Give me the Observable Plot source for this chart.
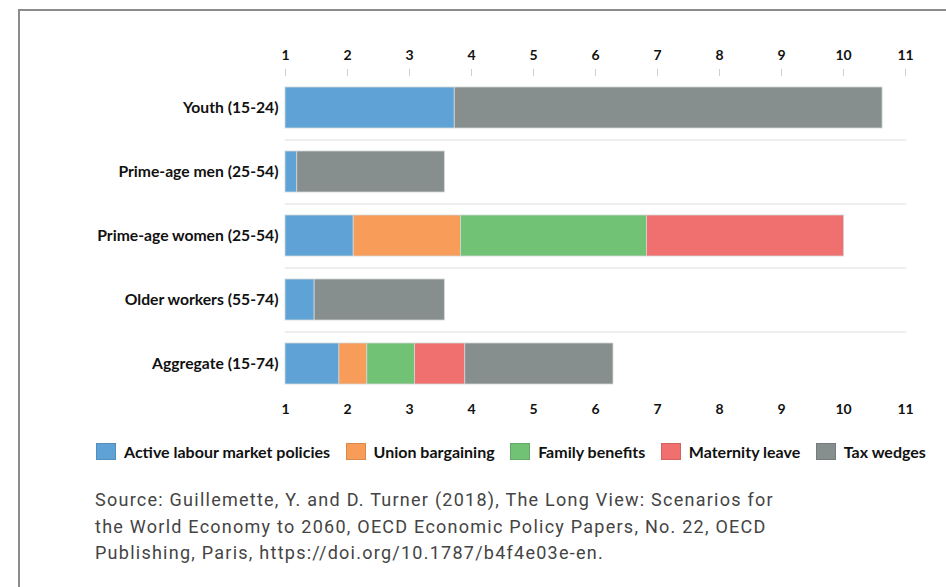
<!DOCTYPE html>
<html>
<head>
<meta charset="utf-8">
<script src="https://cdn.jsdelivr.net/npm/d3@7"></script>
<script src="https://cdn.jsdelivr.net/npm/@observablehq/plot@0.6"></script>
<style>
  html, body { margin: 0; padding: 0; background: #fff; }
  body { width: 946px; height: 587px; position: relative; overflow: hidden; }
  #frame { position: absolute; left: 18px; top: 9px; width: 940px; height: 600px;
           border-top: 2px solid #8c8c8c; border-left: 2px solid #8c8c8c; }
  #chart { position: absolute; left: 0; top: 0; }
  #legend { position: absolute; left: 96px; top: 442px; display: flex; align-items: center;
            font-family: Lato, sans-serif; font-weight: 700; font-size: 16px; color: #111; white-space: nowrap; }
  .item { display: flex; align-items: center; margin-right: 15.5px; flex: none; }
  .item:last-child { margin-right: 0; }
  .sw { width: 20px; height: 17px; margin-right: 8px; box-sizing: border-box; border: 1px solid rgba(0,0,0,0.12); }
  #source { position: absolute; left: 95px; top: 487px; font-family: Roboto, sans-serif; font-size: 18px;
            line-height: 26.5px; color: #444; letter-spacing: 1.25px; white-space: nowrap; }
</style>
</head>
<body>
<div id="frame"></div>
<div id="chart"></div>
<div id="legend"></div>
<div id="source">Source: Guillemette, Y. and D. Turner (2018), The Long View: Scenarios for<br>the World Economy to 2060, OECD Economic Policy Papers, No. 22, OECD<br>Publishing, Paris, https://doi.org/10.1787/b4f4e03e-en.</div>
<script>
const categories = ["Youth (15-24)", "Prime-age men (25-54)", "Prime-age women (25-54)", "Older workers (55-74)", "Aggregate (15-74)"];
const policies = ["Active labour market policies", "Union bargaining", "Family benefits", "Maternity leave", "Tax wedges"];
const activeLabour    = [2.73, 0.19, 1.10, 0.47, 0.87];
const unionBargaining = [0,    0,    1.73, 0,    0.45];
const familyBenefits  = [0,    0,    3.00, 0,    0.77];
const maternityLeave  = [0,    0,    3.18, 0,    0.81];
const taxWedges       = [6.90, 2.38, 0,    2.10, 2.39];
const xTicks = [1, 2, 3, 4, 5, 6, 7, 8, 9, 10, 11];
const colors = ["#5fa3d6", "#f79c59", "#72c275", "#f07070", "#878e8e"];

const series = [activeLabour, unionBargaining, familyBenefits, maternityLeave, taxWedges];
const rows = [];
categories.forEach((cat, i) => {
  let base = xTicks[0];
  series.forEach((s, j) => {
    const v = s[i];
    if (v > 0) rows.push({category: cat, policy: policies[j], x1: base, x2: base + v});
    base += v;
  });
});

const chart = Plot.plot({
  width: 946,
  height: 430,
  marginTop: 75,
  marginBottom: 34,
  marginLeft: 285,
  marginRight: 41,
  style: {fontFamily: "Lato, sans-serif", fontWeight: 700, fontSize: "13.5px", color: "#111", background: "transparent"},
  x: {domain: [1, 11], ticks: xTicks},
  y: {domain: categories, paddingInner: 0.36, paddingOuter: 0.18, label: null},
  color: {domain: policies, range: colors},
  marks: [
    Plot.ruleY(categories.slice(1), {x1: 1, x2: 11.02, stroke: "#eeeeee", strokeWidth: 2, dy: -32}),
    Plot.barX(rows, {y: "category", x1: "x1", x2: "x2", fill: "policy", stroke: "#d3d6d6", strokeWidth: 0.8}),
    Plot.axisX({anchor: "top", ticks: xTicks, tickSize: 7, tickPadding: 9, stroke: "#c5d0da", label: null, tickFormat: d => d, fontSize: 14}),
    Plot.axisX({anchor: "bottom", ticks: xTicks, tickSize: 0, tickPadding: 8, label: null, tickFormat: d => d, fontSize: 14}),
    Plot.axisY({tickSize: 0, tickPadding: 7, label: null, fontSize: 15.7})
  ]
});
document.getElementById("chart").appendChild(chart);

const legend = document.getElementById("legend");
policies.forEach((p, j) => {
  const it = document.createElement("div");
  it.className = "item";
  const sw = document.createElement("div");
  sw.className = "sw";
  sw.style.background = colors[j];
  const t = document.createElement("span");
  t.textContent = p;
  it.appendChild(sw); it.appendChild(t);
  legend.appendChild(it);
});
</script>
</body>
</html>
